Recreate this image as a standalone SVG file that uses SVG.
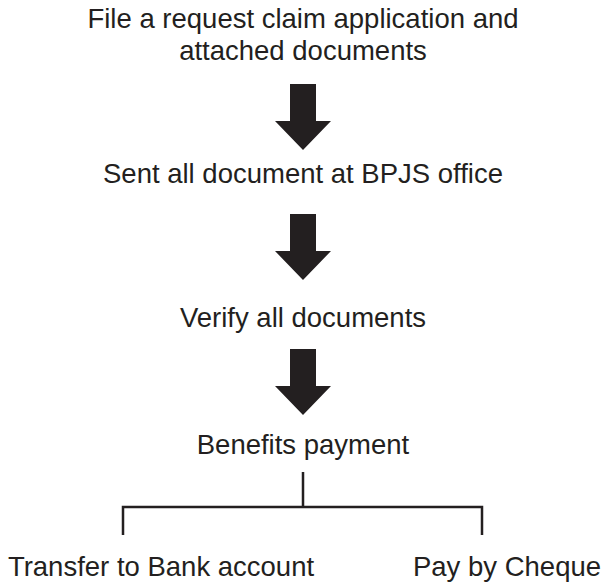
<svg xmlns="http://www.w3.org/2000/svg" width="601" height="582" viewBox="0 0 601 582">
  <style>
    .lbl { font-family: "Liberation Sans", Arial, sans-serif; font-size: 27.5px; fill: #231f20; text-anchor: middle; }
    .arrow { fill: #231f20; }
    .line { fill: none; stroke: #231f20; stroke-width: 2.5; }
  </style>
  <rect width="601" height="582" fill="#ffffff"/>

  <g id="step-file">
    <text class="lbl" x="303" y="28">File a request claim application and</text>
    <text class="lbl" x="303" y="60">attached documents</text>
  </g>
  <g id="step-sent">
    <text class="lbl" x="303" y="183">Sent all document at BPJS office</text>
  </g>
  <g id="step-verify">
    <text class="lbl" x="303" y="327">Verify all documents</text>
  </g>
  <g id="step-payment">
    <text class="lbl" x="303" y="454">Benefits payment</text>
  </g>
  <g id="option-transfer">
    <text class="lbl" x="161" y="576">Transfer to Bank account</text>
  </g>
  <g id="option-cheque">
    <text class="lbl" x="507" y="576">Pay by Cheque</text>
  </g>

  <g id="connectors">
    <polygon class="arrow" points="290,84 316,84 316,121 331,121 303,150 275,121 290,121"/>
    <polygon class="arrow" points="290,214 316,214 316,251 331,251 303,280 275,251 290,251"/>
    <polygon class="arrow" points="290,349 316,349 316,386 331,386 303,415 275,386 290,386"/>
    <path class="line" d="M303,472 V507 M123,535 V507 H482 V535"/>
  </g>
</svg>
